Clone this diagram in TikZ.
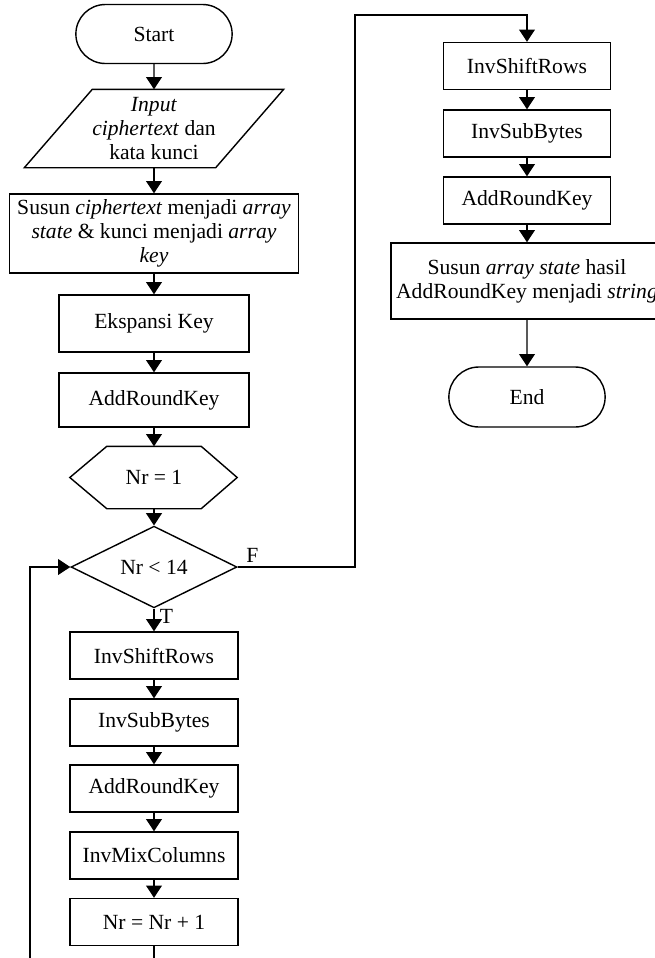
\documentclass[tikz,border=0pt]{standalone}
\usepackage{fontspec}
\setmainfont{Liberation Serif}
\usetikzlibrary{arrows.meta,shapes.geometric,shapes.misc}

\begin{document}
\begin{tikzpicture}[x=0.02cm, y=-0.02cm, line width=0.8pt,
   >={Triangle[width=9pt,length=7pt]},
   every node/.style={font=\fontsize{12.3}{13.6}\selectfont, align=center},
   box/.style={draw, rectangle, minimum width=3.36cm, minimum height=0.94cm, inner sep=1pt},
   term/.style={draw, rounded rectangle, minimum width=3.36cm, minimum height=1.18cm},
   cond/.style={draw, diamond, minimum width=3.32cm, minimum height=1.52cm, inner sep=0pt}]
   \useasboundingbox (0,0) rectangle (654,958);
   \node[term] (start) at (154,34) {Start};
   \node[inner sep=0pt, minimum width=3.8cm, minimum height=1.54cm] (input) at (154,128.5)
      {\textit{Input}\\ \textit{ciphertext} dan\\ kata kunci};
   \draw ([xshift=0.68cm]input.north west) -- ([xshift=0.68cm]input.north east)
      -- ([xshift=-0.68cm]input.south east) -- ([xshift=-0.68cm]input.south west) -- cycle;
   \node[box, minimum width=5.78cm, minimum height=1.58cm] (susun1) at (154,233.5)
      {Susun \textit{ciphertext} menjadi \textit{array}\\ \textit{state} \& kunci menjadi \textit{array}\\ \textit{key}};
   \node[box, minimum width=3.8cm, minimum height=1.14cm] (ekspansi) at (154,323.5) {Ekspansi Key};
   \node[box, minimum width=3.8cm, minimum height=1.08cm] (ark1) at (154,400) {AddRoundKey};
   \node[inner sep=0pt, minimum width=1.86cm, minimum height=1.22cm] (nr1) at (154,477.5) {Nr = 1};
   \draw (nr1.north west) -- (nr1.north east) -- ([xshift=0.72cm]nr1.east)
      -- (nr1.south east) -- (nr1.south west) -- ([xshift=-0.74cm]nr1.west) -- cycle;
   \node[cond] (cek) at (154,567) {Nr < 14};
   \node[box] (isr1) at (154,655.5) {InvShiftRows};
   \node[box] (isb1) at (154,722.5) {InvSubBytes};
   \node[box] (ark2) at (154,788.5) {AddRoundKey};
   \node[box] (imc) at (154,855.5) {InvMixColumns};
   \node[box] (nr2) at (154,922) {Nr = Nr + 1};
   \node[box, minimum width=3.34cm] (isr2) at (527,66) {InvShiftRows};
   \node[box, minimum width=3.34cm] (isb2) at (527,133.5) {InvSubBytes};
   \node[box, minimum width=3.34cm] (ark3) at (527,200.5) {AddRoundKey};
   \node[box, minimum width=5.44cm, minimum height=1.52cm] (susun2) at (527,281)
      {Susun \textit{array state} hasil\\ AddRoundKey menjadi \textit{string}};
   \node[term, minimum height=1.2cm] (end) at (527,397) {End};
   \node[anchor=south west, inner sep=0pt, xshift=4.5pt, yshift=2pt] (lblF) at (cek.east) {F};
   \node[anchor=north west, inner sep=0pt, xshift=3pt] (lblT) at (cek.south) {T};
   \coordinate (loopB) at (30,961);
   \coordinate (jumpF) at (355,15);
   \draw[->] (start) -- (input);
   \draw[->] (input) -- (susun1);
   \draw[->] (susun1) -- (ekspansi);
   \draw[->] (ekspansi) -- (ark1);
   \draw[->] (ark1) -- (nr1);
   \draw[->] (nr1) -- (cek);
   \draw[->] (cek) -- (isr1);
   \draw[->] (isr1) -- (isb1);
   \draw[->] (isb1) -- (ark2);
   \draw[->] (ark2) -- (imc);
   \draw[->] (imc) -- (nr2);
   \draw[->] (nr2) |- (loopB) |- (cek);
   \draw[->] (cek) -| (jumpF) -| (isr2);
   \draw[->] (isr2) -- (isb2);
   \draw[->] (isb2) -- (ark3);
   \draw[->] (ark3) -- (susun2);
   \draw[->] (susun2) -- (end);
\end{tikzpicture}
\end{document}
